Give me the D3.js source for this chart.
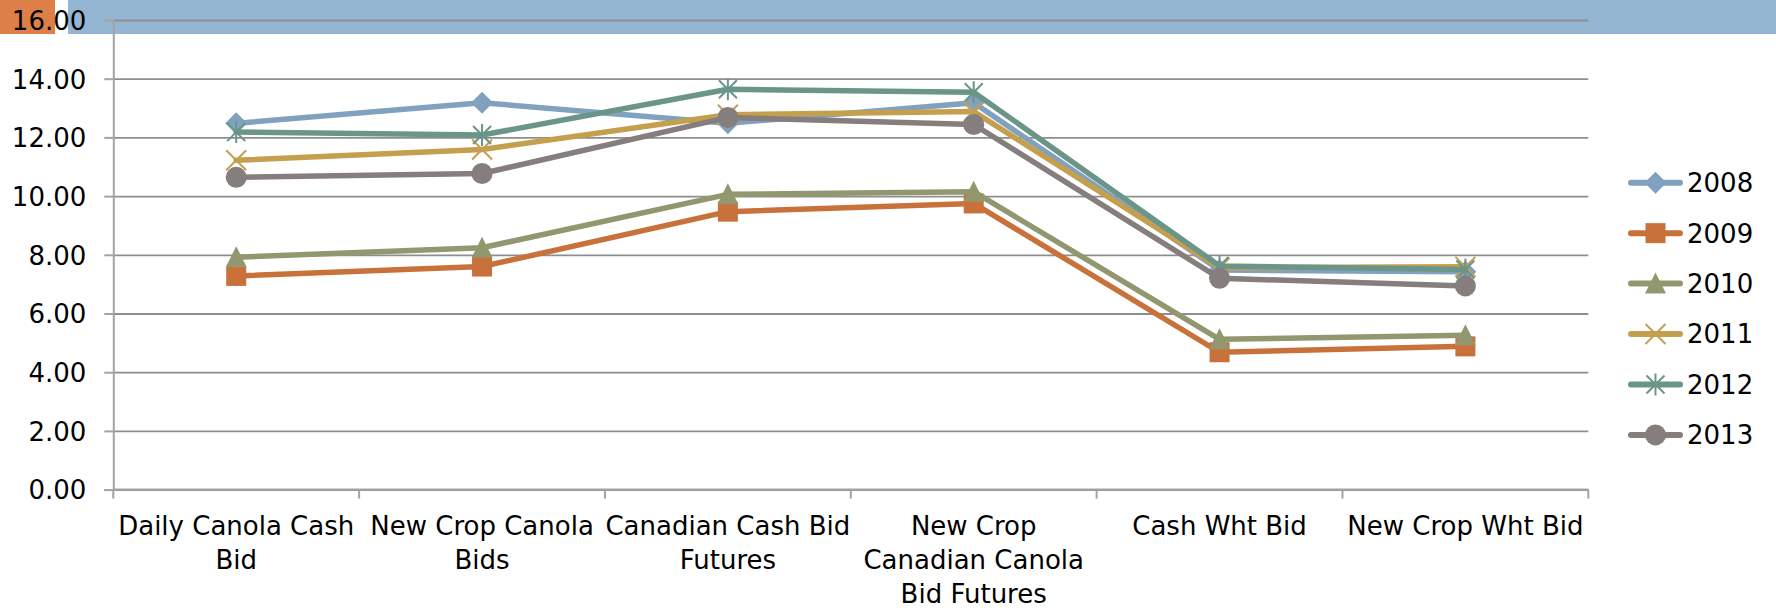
<!DOCTYPE html>
<html>
<head>
<meta charset="utf-8">
<script src="https://cdn.jsdelivr.net/npm/d3@7"></script>
<style>
  html, body { margin: 0; padding: 0; background: #fff; }
  svg { display: block; font-family: "DejaVu Sans", sans-serif; }
</style>
</head>
<body>
<svg id="chart" width="1776" height="610"></svg>
<script>
// Bid prices by year across six bid types
const categories = [
  "Daily Canola Cash Bid",
  "New Crop Canola Bids",
  "Canadian Cash Bid Futures",
  "New Crop Canadian Canola Bid Futures",
  "Cash Wht Bid",
  "New Crop Wht Bid"
];
const categoryLines = [
  ["Daily Canola Cash", "Bid"],
  ["New Crop Canola", "Bids"],
  ["Canadian Cash Bid", "Futures"],
  ["New Crop", "Canadian Canola", "Bid Futures"],
  ["Cash Wht Bid"],
  ["New Crop Wht Bid"]
];
const years = ["2008", "2009", "2010", "2011", "2012", "2013"];
const values2008 = [12.48, 13.18, 12.48, 13.18, 7.48, 7.42];
const values2009 = [7.28, 7.60, 9.47, 9.75, 4.68, 4.88];
const values2010 = [7.92, 8.24, 10.06, 10.15, 5.12, 5.26];
const values2011 = [11.22, 11.59, 12.77, 12.88, 7.56, 7.59];
const values2012 = [12.18, 12.08, 13.64, 13.54, 7.62, 7.50];
const values2013 = [10.64, 10.77, 12.68, 12.44, 7.20, 6.94];
const yTicks = [0, 2, 4, 6, 8, 10, 12, 14, 16];

const seriesValues = [values2008, values2009, values2010, values2011, values2012, values2013];
const colors = ["#81a2bf", "#c8713b", "#93976f", "#c4a04e", "#6b9589", "#867d7d"];
const markers = ["diamond", "square", "triangle", "x", "star", "circle"];

const svg = d3.select("#chart");
const plot = { left: 113.3, right: 1588.3, top: 20, bottom: 489.6 };

const x = d3.scaleBand().domain(categories).range([plot.left, plot.right]);
const y = d3.scaleLinear().domain([0, 16]).range([plot.bottom, plot.top]);
const cx = c => x(c) + x.bandwidth() / 2;

// decorative title strip
svg.append("rect").attr("x", 68).attr("y", 0).attr("width", 1776 - 68).attr("height", 34).attr("fill", "#94b6d2");
svg.append("rect").attr("x", 0).attr("y", 0).attr("width", 55).attr("height", 34).attr("fill", "#dd8047");

// horizontal gridlines
svg.append("g")
  .attr("transform", `translate(${plot.left},0)`)
  .call(d3.axisLeft(y).tickValues(yTicks).tickSize(-(plot.right - plot.left)).tickFormat(""))
  .call(g => g.select(".domain").remove())
  .call(g => g.selectAll("line").attr("stroke", "#8e8e8e").attr("stroke-width", 1.8));

// y axis with labels
svg.append("g")
  .attr("transform", `translate(${plot.left},0)`)
  .call(d3.axisLeft(y).tickValues(yTicks).tickSize(9).tickPadding(18).tickFormat(d3.format(".2f")))
  .call(g => g.select(".domain").attr("stroke", "#a3a3a3").attr("stroke-width", 2))
  .call(g => g.selectAll(".tick line").attr("stroke", "#a3a3a3").attr("stroke-width", 2))
  .call(g => g.selectAll(".tick text").attr("fill", "#000").attr("font-size", 26)
    .attr("font-family", "DejaVu Sans").attr("dy", "0.36em"));

// x axis baseline and category boundary ticks
const xAxis = svg.append("g");
xAxis.append("line")
  .attr("x1", plot.left).attr("x2", plot.right)
  .attr("y1", y(0)).attr("y2", y(0))
  .attr("stroke", "#a3a3a3").attr("stroke-width", 2);
const boundaries = categories.map(c => x(c)).concat([x(categories[categories.length - 1]) + x.bandwidth()]);
xAxis.selectAll("line.tick").data(boundaries).join("line")
  .attr("class", "tick")
  .attr("x1", d => d).attr("x2", d => d)
  .attr("y1", y(0)).attr("y2", y(0) + 9)
  .attr("stroke", "#a3a3a3").attr("stroke-width", 2);

// wrapped category labels
const labels = xAxis.selectAll("text.cat").data(categories).join("text")
  .attr("class", "cat")
  .attr("text-anchor", "middle")
  .attr("font-size", 26)
  .attr("fill", "#000");
labels.each(function(c, i) {
  d3.select(this).selectAll("tspan").data(categoryLines[i]).join("tspan")
    .attr("x", cx(c))
    .attr("y", (d, j) => y(0) + 45 + j * 34)
    .text(d => d);
});

// marker shapes
function drawMarker(g, type, color) {
  if (type === "diamond") {
    g.append("path").attr("d", "M0,-11L11,0L0,11L-11,0Z").attr("fill", color);
  } else if (type === "square") {
    g.append("rect").attr("x", -10).attr("y", -10).attr("width", 20).attr("height", 20).attr("fill", color);
  } else if (type === "triangle") {
    g.append("path").attr("d", "M0,-11L10.5,10L-10.5,10Z").attr("fill", color);
  } else if (type === "x") {
    g.append("path").attr("d", "M-10,-10L10,10M10,-10L-10,10")
      .attr("stroke", color).attr("stroke-width", 2).attr("fill", "none");
  } else if (type === "star") {
    g.append("path").attr("d", "M-9,-9L9,9M9,-9L-9,9M0,-11L0,11")
      .attr("stroke", color).attr("stroke-width", 2).attr("fill", "none");
  } else if (type === "circle") {
    g.append("circle").attr("r", 10.5).attr("fill", color);
  }
}

const line = d3.line().x((d, i) => cx(categories[i])).y(d => y(d));

// series lines and markers
seriesValues.forEach((vals, s) => {
  const g = svg.append("g").attr("class", "series");
  g.append("path")
    .attr("d", line(vals))
    .attr("fill", "none")
    .attr("stroke", colors[s])
    .attr("stroke-width", 5.5)
    .attr("stroke-linejoin", "round")
    .attr("stroke-linecap", "round");
  vals.forEach((v, i) => {
    const m = g.append("g").attr("transform", `translate(${cx(categories[i])},${y(v)})`);
    drawMarker(m, markers[s], colors[s]);
  });
});

// legend
const legend = svg.append("g").attr("transform", "translate(1628,182.7)");
years.forEach((yr, s) => {
  const item = legend.append("g").attr("transform", `translate(0,${s * 50.45})`);
  item.append("line").attr("x1", 3).attr("x2", 52).attr("y1", 0).attr("y2", 0)
    .attr("stroke", colors[s]).attr("stroke-width", 6).attr("stroke-linecap", "round");
  const m = item.append("g").attr("transform", "translate(27.5,0)");
  drawMarker(m, markers[s], colors[s]);
  item.append("text").attr("x", 59).attr("y", 0).attr("dy", "0.36em")
    .attr("font-size", 26).attr("fill", "#000").text(yr);
});
</script>
</body>
</html>
